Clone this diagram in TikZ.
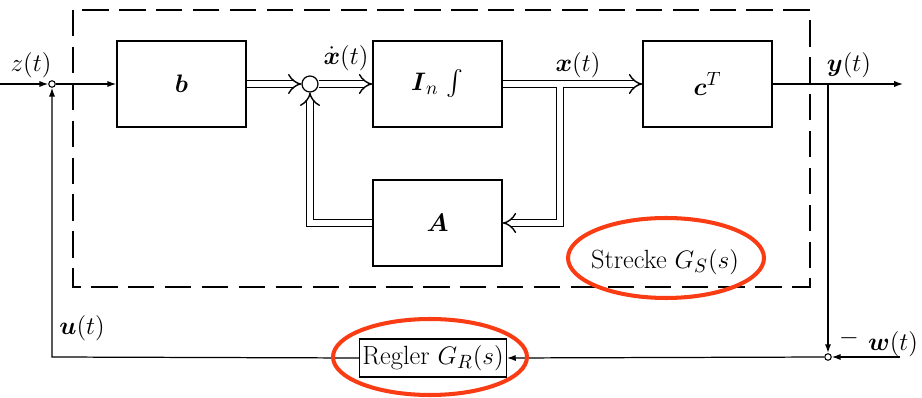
\documentclass[tikz,border=0pt]{standalone}
\usepackage{amsmath}
\usetikzlibrary{arrows.meta}
\definecolor{hlred}{RGB}{250,60,20}
\begin{document}
\begin{tikzpicture}[x=0.02cm,y=-0.02cm, font=\fontsize{15}{17}\selectfont,
 blk/.style={draw, line width=0.9pt, minimum width=2.58cm, minimum height=1.72cm, inner sep=0pt},
 sig/.style={line width=0.7pt},
 arr/.style={sig, -{Latex[length=5pt,width=3.5pt]}},
 dbl/.style={double, double distance=3.2pt, line width=0.8pt},
 dblarr/.style={dbl, -{Implies}},
 jn/.style={circle, draw, fill=white, inner sep=0pt, minimum size=0.13cm, line width=0.6pt},
 sumc/.style={circle, draw, fill=white, inner sep=0pt, minimum size=0.32cm, line width=0.7pt},
 dashbox/.style={line width=0.9pt, dash pattern=on 15pt off 6pt},
 hl/.style={draw=hlred, line width=2.3pt},
 lbl/.style={inner sep=1pt}]
\useasboundingbox (0,0) rectangle (922,398);
% Strecke boundary
\draw[dashbox] (73,10) rectangle (810,287);
% blocks
\node[blk] (b) at (181.5,84) {$\boldsymbol{b}$};
\node[blk] (In) at (437.5,84) {$\boldsymbol{I}_n\,\int$};
\node[blk] (cT) at (707.5,84) {$\boldsymbol{c}^T$};
\node[blk] (A) at (437.5,223) {$\boldsymbol{A}$};
\node[draw, line width=0.7pt, inner sep=1.5pt, minimum height=0.76cm] (R) at (433,358) {Regler $G_R(s)$};
\node[sumc] (sum) at (310,84) {};
\node[jn] (zj) at (52,84) {};
\node[jn] (wj) at (828,357) {};
% coordinates
\coordinate (zin) at (0,84);
\coordinate (yout) at (903,84);
\coordinate (yb) at (828,84);
\coordinate (win) at (900,357);
\coordinate (ub) at (52,357);
\coordinate (xb) at (560,86.8);
\coordinate (xc) at (560,223);
\coordinate (ac) at (310,223);
% signal lines
\draw[arr] (zin) -- (zj);
\draw[arr] (zj) -- (b.west);
\draw[dblarr] (b.east) -- (sum.west);
\draw[dblarr] (sum.east) -- (In.west);
\draw[dblarr] (In.east) -- (cT.west);
\draw[dblarr] (xb) -- (xc) -- (A.east);
\draw[dblarr] (A.west) -- (ac) -- (sum.south);
\draw[arr] (cT.east) -- (yout);
\draw[line width=1.3pt, -{Latex[length=5pt,width=3.5pt]}] (yb) -- (wj);
\draw[arr] (win) -- (wj);
\draw[arr] (wj) -- (R.east);
\draw[arr] (R.west) -- (ub) -- (zj);
% labels
\node[lbl] (lz) at (31,65) {$z(t)$};
\node[lbl, inner sep=0pt] (lxd) at (346,58) {$\dot{\boldsymbol{x}}(t)$};
\node[lbl] (lx) at (578,65) {$\boldsymbol{x}(t)$};
\node[lbl] (ly) at (849,65) {$\boldsymbol{y}(t)$};
\node[lbl] (lu) at (82,328) {$\boldsymbol{u}(t)$};
\node[lbl] (lw) at (893,344) {$\boldsymbol{w}(t)$};
\node[lbl] (lm) at (849,338) {$-$};
\node[lbl] (ls) at (665,262) {Strecke $G_S(s)$};
% highlights
\draw[hl] (666,258) ellipse [x radius=1.96cm, y radius=0.8cm];
\draw[hl] (430,357) ellipse [x radius=1.94cm, y radius=0.76cm];
\end{tikzpicture}
\end{document}
